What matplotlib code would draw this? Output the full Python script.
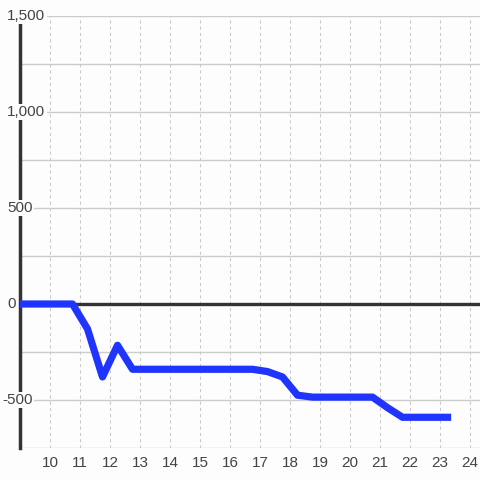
import matplotlib
matplotlib.use("Agg")
import matplotlib.pyplot as plt
from matplotlib.transforms import blended_transform_factory

# data
hours = [8.75, 9.25, 9.75, 10.25, 10.75, 11.25, 11.75, 12.25, 12.75, 13.25, 13.75,
         14.25, 14.75, 15.25, 15.75, 16.25, 16.75, 17.25, 17.75, 18.25, 18.75,
         19.25, 19.75, 20.25, 20.75, 21.25, 21.75, 22.25, 22.75, 23.25]
values = [0, 0, 0, 0, 0, -130, -380, -215, -340, -340, -340,
          -340, -340, -340, -340, -340, -340, -352, -380, -475, -485,
          -485, -485, -485, -485, -540, -590, -590, -590, -590]
x_ticks = list(range(10, 25))
y_ticks = [-500, 0, 500, 1000, 1500]
y_grid = [-750, -500, -250, 0, 250, 500, 750, 1000, 1250, 1500]

plt.rcParams['font.family'] = ['Liberation Sans', 'DejaVu Sans']
fig = plt.figure(figsize=(4.8, 4.8), dpi=100, facecolor='#fdfdfd')
ax = fig.add_axes([20/480, 32/480, 460/480, 432/480])
ax.set_facecolor('#fdfdfd')
ax.set_xlim(9, 24.333)
ax.set_ylim(-750, 1500)

for g in y_grid:
    ax.axhline(g, color='#cccccc', lw=1.0, zorder=1)
for t in x_ticks:
    ax.axvline(t, color='#c8c8c8', lw=0.75, ls=(0, (3, 3)), zorder=1)

ax.axhline(0, color='#333333', lw=2.4, zorder=2)
ax.plot(hours, values, color='#1f35ff', lw=5.2, solid_joinstyle='round',
        solid_capstyle='projecting', zorder=3)

for s in ['top', 'right', 'bottom']:
    ax.spines[s].set_visible(False)
ax.spines['left'].set_color('#333333')
ax.spines['left'].set_linewidth(2.5)
ax.spines['left'].set_zorder(2.6)

ax.set_yticks([])
ax.set_xticks(x_ticks)
ax.set_xticklabels([str(t) for t in x_ticks], fontsize=11, color='#444444')
ax.tick_params(axis='x', length=0, pad=6)

tr = blended_transform_factory(fig.transFigure, ax.transData)
for v in y_ticks:
    lab = f"{v:,}"
    xpos = 2/480 if v < 0 else 7/480
    ax.text(xpos, v, lab, transform=tr, ha='left', va='center', fontsize=11,
            color='#444444', zorder=6, clip_on=False,
            bbox=dict(facecolor='#fdfdfd', edgecolor='none', pad=1.0))

fig.savefig('out.png', dpi=100, facecolor=fig.get_facecolor())
